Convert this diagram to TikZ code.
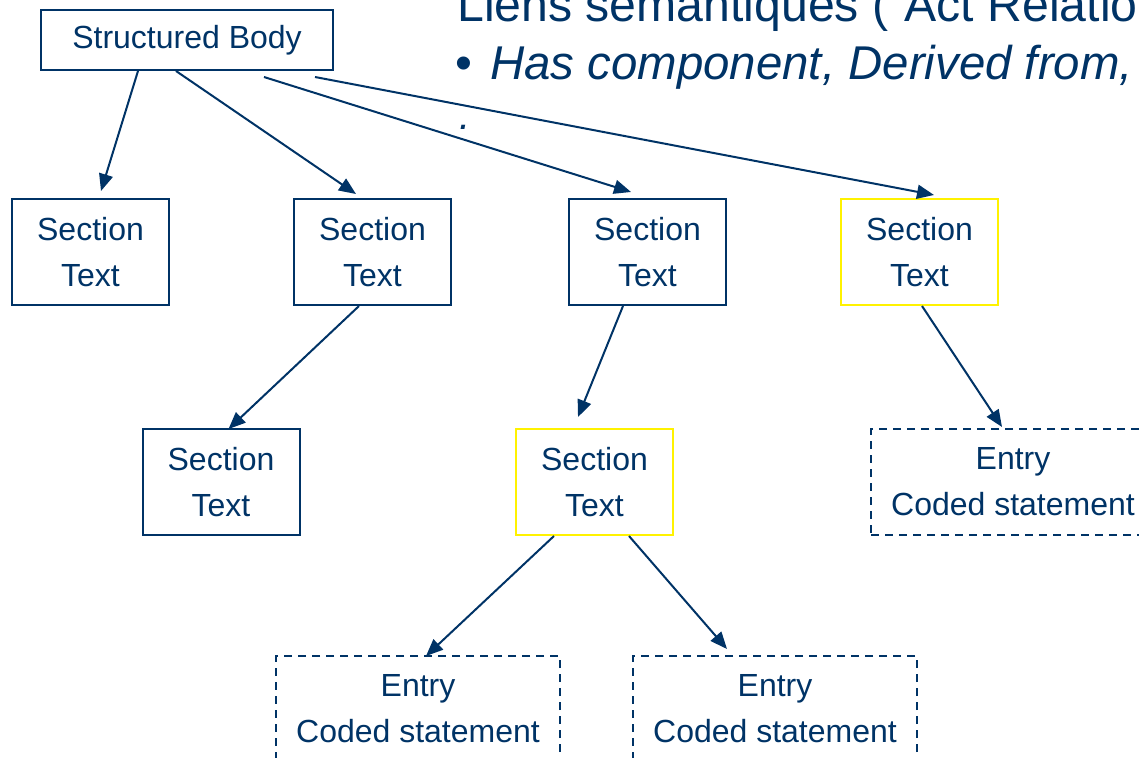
\documentclass[tikz,border=0pt]{standalone}
\usepackage{fontspec}
\setmainfont{Liberation Sans}
\usetikzlibrary{arrows.meta}
\definecolor{navy}{RGB}{0,51,102}
\begin{document}
\begin{tikzpicture}[x=1pt,y=-1pt,
  box/.style={draw=navy,line width=2pt,minimum width=157pt,minimum height=106pt,
    inner sep=0pt,align=center,text=navy,font=\fontsize{32}{46}\selectfont},
  ybox/.style={box,draw=yellow},
  ebox/.style={box,dash pattern=on 8pt off 6pt,minimum width=284pt},
  arr/.style={-{Triangle[length=17pt,width=14pt]},draw=navy,line width=2pt},
  title/.style={anchor=base west,inner sep=0pt,text=navy,font=\fontsize{48.2}{58}\selectfont}]
\useasboundingbox (0,0) rectangle (1139,757);
\clip (0,0) rectangle (1139,757);

% title text (cropped at the top and right, as in the reference)
\node[title] (t1) at (457,22) {Liens sémantiques (“Act Relationship”)};
\node[title] (tb) at (455,80) {•};
\node[title,font=\fontsize{47.4}{58}\selectfont\itshape] (t2) at (490,80) {Has component, Derived from,};
\node[title,font=\fontsize{40}{48}\selectfont\itshape] (t3) at (459,129) {.};

% nodes
\node[box,minimum width=292pt,minimum height=60pt] (sb) at (187,40) {Structured Body};
\node[box]  (s1) at (90.5,252) {Section\\Text};
\node[box]  (s2) at (372.5,252) {Section\\Text};
\node[box]  (s3) at (647.5,252) {Section\\Text};
\node[ybox] (s4) at (919.5,252) {Section\\Text};
\node[box]  (s5) at (221,482) {Section\\Text};
\node[ybox] (s6) at (594.5,482) {Section\\Text};
\node[ebox] (e1) at (1013,482) {Entry\\Coded statement};
\node[ebox] (e2) at (418,709) {Entry\\Coded statement};
\node[ebox] (e3) at (775,709) {Entry\\Coded statement};

% connectors
\draw[arr] ([xshift=98pt]sb.south west) -- ([xshift=90pt,yshift=7pt]s1.north west);
\draw[arr] ([xshift=136pt]sb.south west) -- ([xshift=63pt,yshift=4pt]s2.north west);
\draw[arr] ([xshift=224pt,yshift=-6pt]sb.south west) -- ([xshift=63pt,yshift=6pt]s3.north west);
\draw[arr] ([xshift=275pt,yshift=-6pt]sb.south west) -- ([xshift=94pt,yshift=3pt]s4.north west);
\draw[arr] ([xshift=66pt]s2.south west) -- ([xshift=87pt,yshift=-1pt]s5.north west);
\draw[arr] ([xshift=55pt]s3.south west) -- ([xshift=63pt,yshift=11pt]s6.north west);
\draw[arr] ([xshift=82pt]s4.south west) -- ([xshift=132pt,yshift=1pt]e1.north west);
\draw[arr] ([xshift=39pt]s6.south west) -- ([xshift=151pt,yshift=-1pt]e2.north west);
\draw[arr] ([xshift=114pt]s6.south west) -- ([xshift=95pt,yshift=6pt]e3.north west);
\end{tikzpicture}
\end{document}
